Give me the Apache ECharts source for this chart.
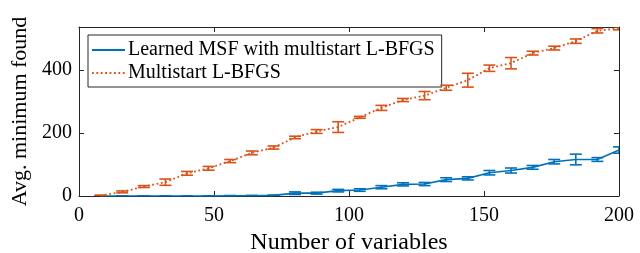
<!DOCTYPE html>
<html>
<head>
<meta charset="utf-8">
<script src="https://cdn.jsdelivr.net/npm/echarts@6/dist/echarts.min.js"></script>
<style>
	html, body { margin:0; padding:0; background:#fff; }
	#echarts { width:640px; height:253px; }
</style>
</head>
<body>
<div id="echarts"></div>
<script type="text/javascript">
	// number of variables
	var xs = [8, 16, 24, 32, 40, 48, 56, 64, 72, 80, 88, 96, 104, 112, 120, 128, 136, 144, 152, 160, 168, 176, 184, 192, 200];
	// learned MSF with multistart L-BFGS
	var msfMean = [0, 0, 0, 0, 0, 0, 0.5, 1, 2, 9, 9, 17, 19, 28, 37, 38, 52, 56, 74, 81, 91, 109, 116, 116, 146];
	var msfErr  = [0.5, 0.5, 0.5, 0.5, 0.5, 0.5, 1, 1, 1, 4, 3, 4, 4, 5, 5, 5, 6, 5, 7, 8, 6, 7, 17, 6, 10];
	// multistart L-BFGS
	var lbMean = [1, 13, 30, 44, 72, 88, 111, 137, 154, 186, 205, 219, 250, 280, 305, 319, 344, 368, 406, 422, 454, 470, 492, 525, 533];
	var lbErr  = [2, 3, 3, 10, 6, 6, 5, 6, 5, 4, 6, 17, 3, 8, 5, 13, 8, 22, 10, 18, 6, 6, 7, 7, 5];

	var xTicks = [0, 50, 100, 150, 200];
	var yTicks = [0, 200, 400];
	var yMax = 537;

	var blue = '#0072BD', orange = '#D95319', axisColor = '#262626';
	var font = 'Liberation Serif';

	function pairs(m){
		return xs.map(function(x, i){ return [x, m[i]]; });
	}
	function bars(m, e){
		return xs.map(function(x, i){ return [x, m[i] - e[i], m[i] + e[i]]; });
	}
	function errorBar(color){
		return function(params, api){
			var x = api.value(0);
			var lo = api.coord([x, api.value(1)]);
			var hi = api.coord([x, api.value(2)]);
			var w = 6;
			var st = { stroke: color, lineWidth: 1.6 };
			return {
				type: 'group',
				children: [
					{ type: 'line', shape: { x1: lo[0], y1: lo[1], x2: hi[0], y2: hi[1] }, style: st },
					{ type: 'line', shape: { x1: lo[0] - w, y1: lo[1], x2: lo[0] + w, y2: lo[1] }, style: st },
					{ type: 'line', shape: { x1: hi[0] - w, y1: hi[1], x2: hi[0] + w, y2: hi[1] }, style: st }
				]
			};
		};
	}

	var thechart = echarts.init(document.getElementById('echarts'));
	var lineAxis = { show: true, onZero: false, lineStyle: { color: axisColor, width: 1 } };
	var tick = { show: true, inside: true, length: 5, lineStyle: { color: axisColor } };
	var theoption = {
		animation: false,
		backgroundColor: '#fff',
		grid: { left: 79, right: 21, top: 27, bottom: 57, containLabel: false, outerBoundsMode: 'none' },
		legend: {
			orient: 'vertical',
			left: 88, top: 35,
			data: ['Learned MSF with multistart L-BFGS', 'Multistart L-BFGS'],
			backgroundColor: '#fff',
			borderColor: axisColor, borderWidth: 1,
			padding: [5, 7, 4, 3],
			itemGap: 3, itemWidth: 33, itemHeight: 14,
			itemStyle: { color: 'rgba(0,0,0,0)', borderWidth: 0 },
			textStyle: { fontFamily: font, fontSize: 20, color: '#000', padding: [0, 0, 0, -2] }
		},
		xAxis: [
			{
				type: 'value', min: xTicks[0], max: xTicks[xTicks.length - 1], interval: 50,
				name: 'Number of variables', nameLocation: 'middle', nameGap: 31,
				nameTextStyle: { fontFamily: font, fontSize: 24, color: '#000' },
				axisLine: lineAxis, axisTick: tick, splitLine: { show: false },
				axisLabel: { fontFamily: font, fontSize: 20, color: '#000', margin: 10 }
			},
			{
				type: 'value', position: 'top', min: xTicks[0], max: xTicks[xTicks.length - 1], interval: 50,
				axisLine: lineAxis, axisTick: tick, splitLine: { show: false }, axisLabel: { show: false }
			}
		],
		yAxis: [
			{
				type: 'value', min: yTicks[0], max: yMax, interval: 200,
				name: 'Avg. minimum found', nameLocation: 'middle', nameGap: 46,
				nameTextStyle: { fontFamily: font, fontSize: 22, color: '#000' },
				axisLine: lineAxis, axisTick: tick, splitLine: { show: false },
				axisLabel: { fontFamily: font, fontSize: 20, color: '#000', margin: 7, showMaxLabel: false }
			},
			{
				type: 'value', position: 'right', min: yTicks[0], max: yMax, interval: 200,
				axisLine: lineAxis, axisTick: tick, splitLine: { show: false }, axisLabel: { show: false }
			}
		],
		series: [
			{
				name: 'Learned MSF with multistart L-BFGS', type: 'line', data: pairs(msfMean),
				symbol: 'none', color: blue, lineStyle: { color: blue, width: 1.6 }, z: 3
			},
			{
				name: 'Multistart L-BFGS', type: 'line', data: pairs(lbMean),
				symbol: 'none', color: orange, lineStyle: { color: orange, width: 1.8, type: [1.8, 2.6] }, z: 3
			},
			{
				name: 'msf err', type: 'custom', data: bars(msfMean, msfErr),
				renderItem: errorBar(blue), clip: true, z: 4
			},
			{
				name: 'lb err', type: 'custom', data: bars(lbMean, lbErr),
				renderItem: errorBar(orange), clip: true, z: 4
			}
		]
	};
	thechart.setOption(theoption, true);
</script>
</body>
</html>
